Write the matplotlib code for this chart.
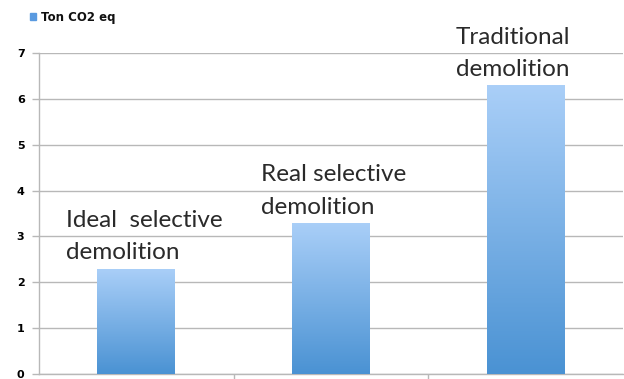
import numpy as np
import matplotlib.pyplot as plt
from matplotlib.colors import LinearSegmentedColormap
from matplotlib.patches import Rectangle

# emissions per demolition type
labels = ['Ideal  selective\ndemolition', 'Real selective\ndemolition', 'Traditional\ndemolition']
values = [2.3, 3.3, 6.3]
series_name = 'Ton CO2 eq'
yticks = [0, 1, 2, 3, 4, 5, 6, 7]

fig = plt.figure(figsize=(6.24, 3.79), dpi=100)
ax = fig.add_axes([39 / 624, 5 / 379, 584 / 624, 321 / 379])

x = np.arange(len(values))
bars = ax.bar(x, values, width=0.4, color='none', edgecolor='none', zorder=3)

# vertical blue gradient inside each bar
grad = LinearSegmentedColormap.from_list('bluegrad', ['#4a92d3', '#aacff8'])
g = np.linspace(0, 1, 256).reshape(-1, 1)
for b in bars:
    bx, by = b.get_x(), b.get_y()
    w, h = b.get_width(), b.get_height()
    im = ax.imshow(g, cmap=grad, origin='lower', aspect='auto',
                   extent=[bx, bx + w, by, by + h], zorder=3)
    clip = Rectangle((bx, by), w, h, transform=ax.transData)
    im.set_clip_path(clip)

for xi, v, lab in zip(x, values, labels):
    ax.text(xi - 0.36, v + 0.2, lab, ha='left', va='baseline', fontsize=17.5,
            family='Lato', fontweight='normal', color='#2a2a2a',
            linespacing=1.65, zorder=4)

ax.set_xlim(-0.5, 2.5)
ax.set_ylim(0, 7)
ax.set_yticks(yticks)
ax.set_yticklabels([str(t) for t in yticks], fontsize=8, fontweight='bold')
ax.set_xticks([0.5, 1.5])
ax.set_xticklabels([])
ax.tick_params(axis='y', length=5, width=1, color='#b8b8b8', pad=11)
ax.tick_params(axis='x', length=5, width=1, color='#b8b8b8')
for lbl in ax.get_yticklabels():
    lbl.set_horizontalalignment('left')
ax.grid(axis='y', color='#b8b8b8', linewidth=1, zorder=0)
ax.set_axisbelow(True)
for side in ['top', 'right']:
    ax.spines[side].set_visible(False)
for side in ['left', 'bottom']:
    ax.spines[side].set_color('#b8b8b8')
    ax.spines[side].set_linewidth(1)

# legend entry at the top left
fig.patches.append(Rectangle((30 / 624, 1 - 20 / 379), 6 / 624, 7 / 379,
                             transform=fig.transFigure, color='#5a9ae0'))
fig.text(41 / 624, 1 - 17 / 379, series_name, fontsize=8.5, fontweight='bold',
         va='center', ha='left', color='#111111')

fig.savefig('out.png', dpi=100)
